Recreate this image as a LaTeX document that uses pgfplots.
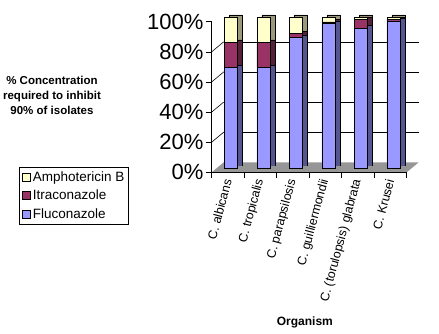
\documentclass[border=0pt]{standalone}
\usepackage{fontspec}
\setmainfont{Liberation Sans}
\usepackage{pgfplots}
\usepackage{pgfplotstable}
\pgfplotsset{compat=1.18}
\definecolor{fluc}{HTML}{9999FF}
\definecolor{flucd}{HTML}{55558F}
\definecolor{itra}{HTML}{993366}
\definecolor{itrad}{HTML}{55203A}
\definecolor{amph}{HTML}{FFFFCC}
\definecolor{amphd}{HTML}{9A9A7A}
\definecolor{floorg}{HTML}{969696}

\pgfplotstableread{
x F I A
0 66.7 16.7 16.6
1 66.7 16.7 16.6
2 86.5 2.7 10.8
3 96.0 1.0 3.0
4 92.8 5.8 1.4
5 97.7 0.8 1.5
}\data

\pgfplotsset{
  legsq/.style={legend image code/.code={\draw[##1,draw=black,line width=0.5pt] (0pt,-4pt) rectangle (8pt,4pt);}},
  barax/.style={anchor=south west, scale only axis, width=195pt, height=151pt,
    xmin=-0.5, xmax=5.5, ymin=0, ymax=100, ybar stacked, bar width=13pt},
}

\begin{document}
\begin{tikzpicture}[x=1pt,y=1pt]
\path[use as bounding box] (0,0) rectangle (439,334);
% back wall with gridlines
\begin{axis}[at={(223.7pt,171.7pt)}, anchor=south west, scale only axis,
  width=195pt, height=150.6pt, xmin=-0.5, xmax=5.5, ymin=0, ymax=100,
  ytick={20,40,60,80}, xtick=\empty, yticklabels={}, ymajorgrids,
  major grid style={black, line width=0.6pt}, axis line style={draw=none},
  major tick length=0pt]
\end{axis}
% floor
\fill[floorg] (211.7,161.7) -- (406.7,161.7) -- (418.7,171.7) -- (223.7,171.7) -- cycle;
% side wall lines
\foreach \p in {20,40,60,80} {
  \draw[line width=0.6pt] (211.7,{161.7+1.506*\p}) -- (223.7,{171.7+1.506*\p});
}
% bar depth (back copy)
\begin{axis}[barax, at={(219.5pt,168.2pt)}, hide axis]
\addplot[fill=flucd, draw=black, line width=0.5pt] table[x=x,y=F]{\data};
\addplot[fill=itrad, draw=black, line width=0.5pt] table[x=x,y=I]{\data};
\addplot[fill=amphd, draw=black, line width=0.5pt] table[x=x,y=A]{\data};
\end{axis}
% bar fronts
\begin{axis}[barax, at={(214.5pt,165.7pt)}, hide axis,
  legend style={at={(-1.0026,0.0086)}, anchor=north west, draw=black, line width=0.6pt,
    font=\fontsize{13.5}{15}\selectfont, inner xsep=2.5pt, inner ysep=3.5pt,
    row sep=5pt, column sep=1.5pt, nodes={inner sep=1pt}},
  legend cell align=left, reverse legend]
\addplot[fill=fluc, draw=black, line width=0.5pt, legsq] table[x=x,y=F]{\data};
\addplot[fill=itra, draw=black, line width=0.5pt, legsq] table[x=x,y=I]{\data};
\addplot[fill=amph, draw=black, line width=0.5pt, legsq] table[x=x,y=A]{\data};
\legend{Fluconazole, Itraconazole, Amphotericin B}
\end{axis}
% front frame with ticks and labels
\begin{axis}[at={(211.7pt,161.7pt)}, anchor=south west, scale only axis,
  width=195pt, height=150.6pt, xmin=-0.5, xmax=5.5, ymin=0, ymax=100,
  axis lines=left, axis line style={-, line width=0.6pt},
  tick align=outside, major tick length=6pt,
  tick style={black, line width=0.6pt},
  /pgf/number format/assume math mode=true,
  ytick={0,20,40,60,80,100},
  yticklabels={0\%,20\%,40\%,60\%,80\%,100\%},
  yticklabel style={font=\fontsize{22}{24}\selectfont, inner sep=2pt},
  xtick={-0.5,0.5,...,5.5},
  x tick label as interval,
  xticklabels={C. albicans, C. tropicalis, C. parapsilosis, C. guilliermondii, C. (torulopsis) glabrata, C. Krusei},
  xticklabel style={rotate=75, anchor=east, font=\fontsize{12.5}{14}\selectfont, inner sep=1pt},
  xlabel={Organism},
  every axis x label/.style={at={(axis description cs:0.478,0)}, yshift=-149.7pt, anchor=center, font=\bfseries\fontsize{12}{14}\selectfont},
  ylabel={\% Concentration\\required to inhibit\\90\% of isolates},
  every axis y label/.style={at={(axis description cs:0,0.5)}, xshift=-159.7pt, yshift=2pt, anchor=center, align=center, font=\bfseries\fontsize{11.5}{15}\selectfont},
]
\end{axis}
\end{tikzpicture}
\end{document}
